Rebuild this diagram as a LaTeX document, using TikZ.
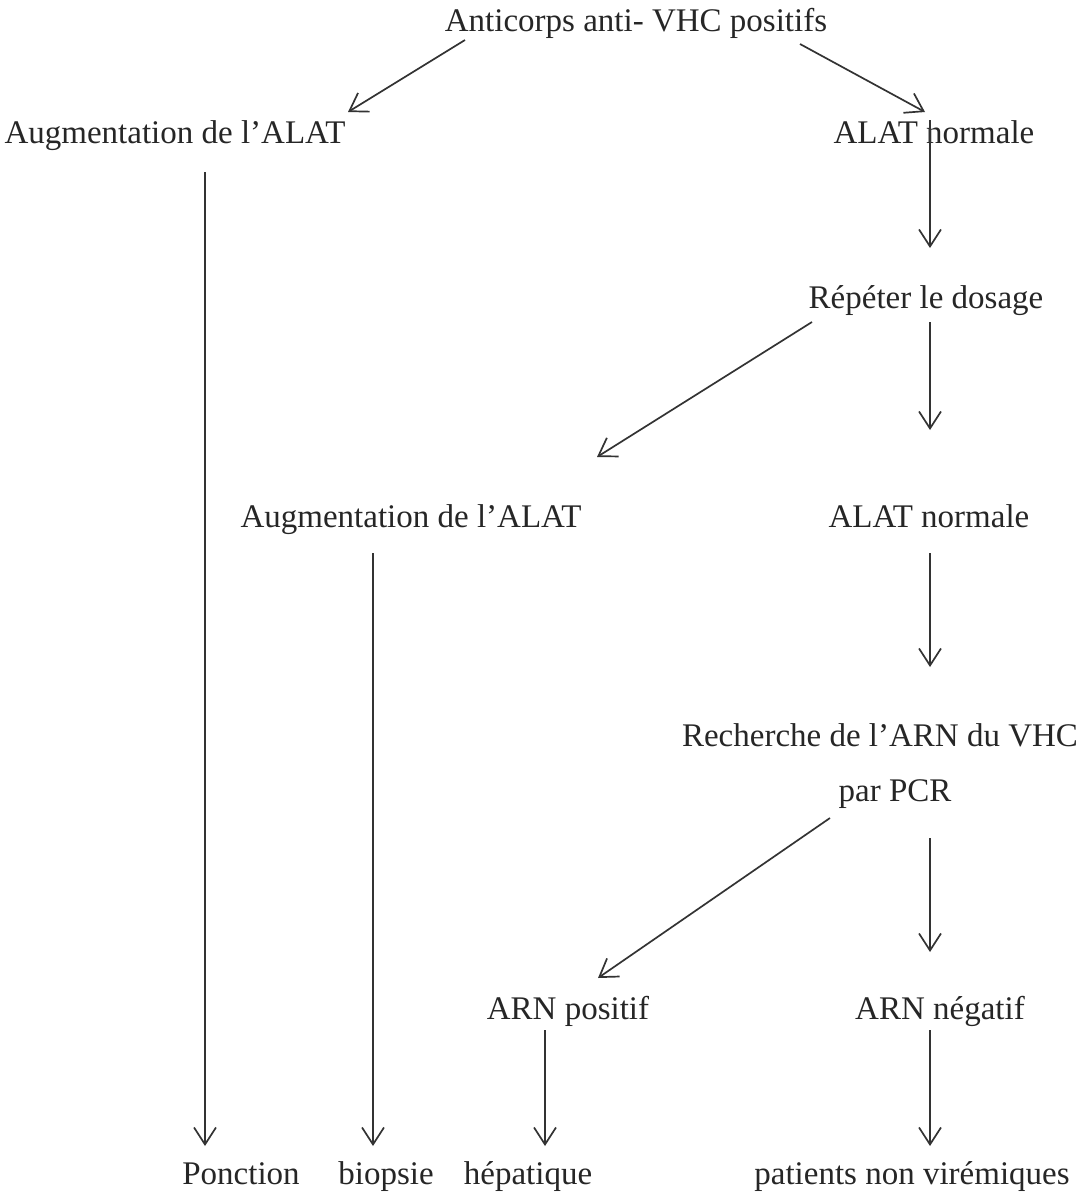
\documentclass[tikz,border=0pt]{standalone}
\usepackage{fontspec}
\setmainfont{Liberation Serif}
\usetikzlibrary{arrows.meta}
\begin{document}
\begin{tikzpicture}[x=1pt,y=-1pt,
  lbl/.style={anchor=base,inner sep=0pt,font=\fontsize{33pt}{38pt}\selectfont,text=black!85},
  arr/.style={draw=black!80,line width=1.7pt,-{Straight Barb[length=17pt,width=22pt,line width=1.7pt]}}]
\useasboundingbox (0,0) rectangle (1077,1194);
% texts
\node[lbl] (top) at (636,31) {Anticorps anti- VHC positifs};
\node[lbl] (augA) at (175,143) {Augmentation de l’ALAT};
\node[lbl] (normA) at (934,143) {ALAT normale};
\node[lbl] (rep) at (926,308) {Répéter le dosage};
\node[lbl] (augB) at (411,527) {Augmentation de l’ALAT};
\node[lbl] (normB) at (929,527) {ALAT normale};
\node[lbl] (rech) at (880,746) {Recherche de l’ARN du VHC};
\node[lbl] (pcr) at (895,801) {par PCR};
\node[lbl] (pos) at (568,1019) {ARN positif};
\node[lbl] (neg) at (940,1019) {ARN négatif};
\node[lbl] (ponc) at (241,1184) {Ponction};
\node[lbl] (biop) at (386,1184) {biopsie};
\node[lbl] (hep) at (528,1184) {hépatique};
\node[lbl] (pat) at (912,1184) {patients non virémiques};
% connector ends
\coordinate (c1s) at (465,40);  \coordinate (c1e) at (348,112);
\coordinate (c2s) at (800,44);  \coordinate (c2e) at (925,112);
\coordinate (c3s) at (205,172); \coordinate (c3e) at (205,1146);
\coordinate (c4s) at (930,120); \coordinate (c4e) at (930,248);
\coordinate (c5s) at (930,322); \coordinate (c5e) at (930,430);
\coordinate (c6s) at (812,322); \coordinate (c6e) at (597,457);
\coordinate (c7s) at (373,553); \coordinate (c7e) at (373,1146);
\coordinate (c8s) at (930,553); \coordinate (c8e) at (930,667);
\coordinate (c9s) at (830,818); \coordinate (c9e) at (598,978);
\coordinate (c10s) at (930,838); \coordinate (c10e) at (930,952);
\coordinate (c11s) at (545,1030); \coordinate (c11e) at (545,1146);
\coordinate (c12s) at (930,1030); \coordinate (c12e) at (930,1146);
\draw[arr] (c1s) -- (c1e);
\draw[arr] (c2s) -- (c2e);
\draw[arr] (c3s) -- (c3e);
\draw[arr] (c4s) -- (c4e);
\draw[arr] (c5s) -- (c5e);
\draw[arr] (c6s) -- (c6e);
\draw[arr] (c7s) -- (c7e);
\draw[arr] (c8s) -- (c8e);
\draw[arr] (c9s) -- (c9e);
\draw[arr] (c10s) -- (c10e);
\draw[arr] (c11s) -- (c11e);
\draw[arr] (c12s) -- (c12e);
\end{tikzpicture}
\end{document}
